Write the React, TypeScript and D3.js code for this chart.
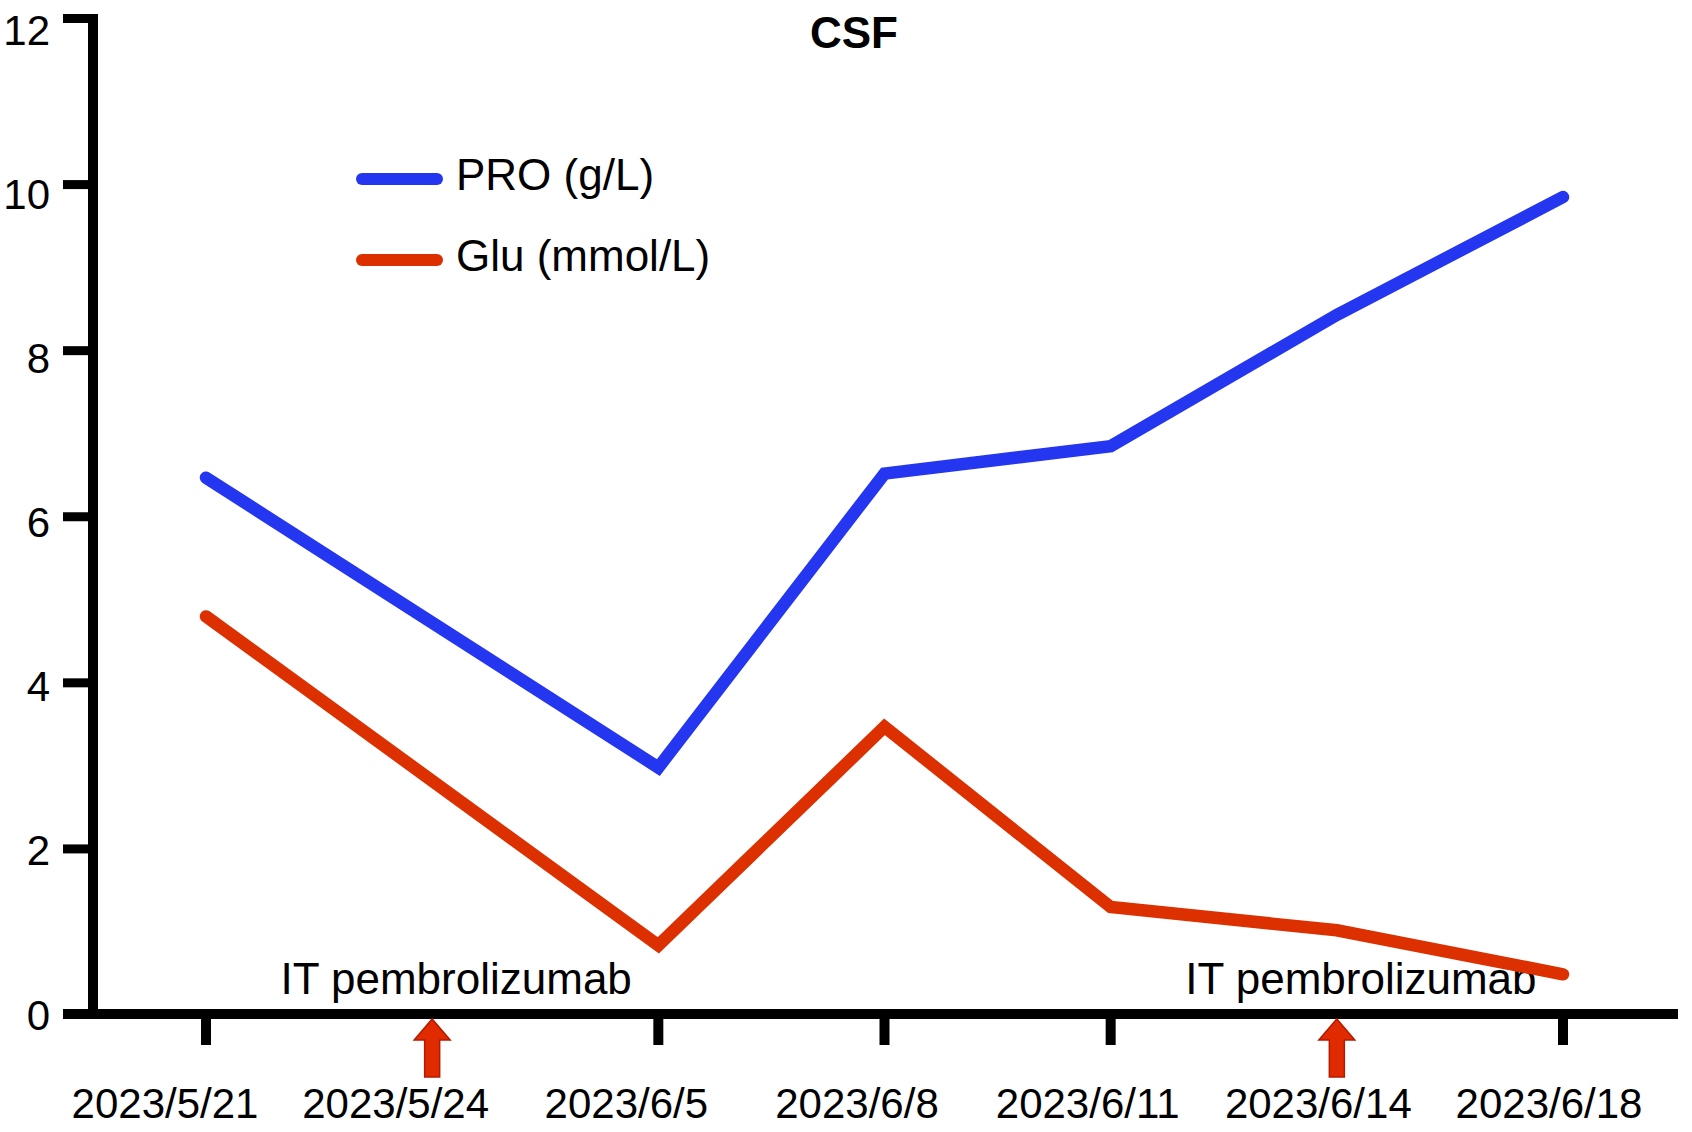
import * as React from 'react';
import { useEffect, useRef } from 'react';
import * as d3 from 'd3';

const dates = ['2023/5/21', '2023/5/24', '2023/6/5', '2023/6/8', '2023/6/11', '2023/6/14', '2023/6/18'];
// null = no measurement that day (line runs straight through)
const proValues: (number | null)[] = [6.47, null, 2.98, 6.52, 6.85, 8.43, 9.85];
const gluValues: (number | null)[] = [4.8, null, 0.84, 3.47, 1.3, 1.02, 0.49];
const yTicks = [0, 2, 4, 6, 8, 10, 12];
const treatmentDates = ['2023/5/24', '2023/6/14'];
const treatmentLabel = 'IT pembrolizumab';
const seriesNames = ['PRO (g/L)', 'Glu (mmol/L)'];
const seriesColors = ['#2436ef', '#dc3000'];

const W = 1692;
const H = 1132;

const App: React.FC = () => {
  const svgRef = useRef<SVGSVGElement>(null);

  useEffect(() => {
    document.body.style.margin = '0';
    if (!svgRef.current) return;
    const svg = d3.select(svgRef.current);
    svg.selectAll('*').remove();

    const font = '"Liberation Sans", Arial, Helvetica, sans-serif';
    const axisX = 93;
    const axisY = 1014;

    const x = d3.scalePoint<string>().domain(dates).range([206, 1563]);
    const xLabel = d3.scalePoint<string>().domain(dates).range([165, 1549]);
    const y = d3.scaleLinear().domain([0, 12]).range([1015, 18.5]);
    // tick labels drift slightly below their ticks toward the top
    const yLabel = d3.scaleLinear().domain([0, 12]).range([1015, 30]);

    // axes
    svg.append('line')
      .attr('x1', axisX).attr('x2', axisX)
      .attr('y1', y(12) - 4.5).attr('y2', axisY + 5)
      .attr('stroke', '#000').attr('stroke-width', 10);
    svg.append('line')
      .attr('x1', 63).attr('x2', 1678)
      .attr('y1', axisY).attr('y2', axisY)
      .attr('stroke', '#000').attr('stroke-width', 10);

    // y ticks
    const yt = svg.append('g');
    yt.selectAll('line').data(yTicks.filter(d => d > 0)).enter().append('line')
      .attr('x1', 63).attr('x2', axisX)
      .attr('y1', d => y(d)).attr('y2', d => y(d))
      .attr('stroke', '#000').attr('stroke-width', 9);
    yt.selectAll('text').data(yTicks).enter().append('text')
      .attr('x', 50)
      .attr('y', d => yLabel(d))
      .attr('text-anchor', 'end')
      .attr('dominant-baseline', 'central')
      .attr('font-family', font)
      .attr('font-size', 42)
      .text(d => d);

    // x ticks (not at treatment dates, arrows there instead)
    svg.append('g').selectAll('line')
      .data(dates.filter(d => !treatmentDates.includes(d)))
      .enter().append('line')
      .attr('x1', d => x(d)!).attr('x2', d => x(d)!)
      .attr('y1', axisY).attr('y2', 1045)
      .attr('stroke', '#000').attr('stroke-width', 10);

    svg.append('g').selectAll('text').data(dates).enter().append('text')
      .attr('x', d => xLabel(d)!)
      .attr('y', 1118)
      .attr('text-anchor', 'middle')
      .attr('font-family', font)
      .attr('font-size', 42)
      .text(d => d);

    // treatment arrows + labels
    const arrow = (cx: number) => {
      const tip = axisY + 5;
      const headH = 21;
      const headW = 18;
      const shaftW = 7.5;
      const bottom = 1077;
      return [
        [cx, tip], [cx + headW, tip + headH], [cx + shaftW, tip + headH],
        [cx + shaftW, bottom], [cx - shaftW, bottom], [cx - shaftW, tip + headH],
        [cx - headW, tip + headH],
      ].map(p => p.join(',')).join(' ');
    };
    const tg = svg.append('g');
    tg.selectAll('polygon').data(treatmentDates).enter().append('polygon')
      .attr('points', d => arrow(x(d)!))
      .attr('fill', '#e02a00')
      .attr('stroke', '#b51a00')
      .attr('stroke-width', 1.5);

    // series lines
    const line = d3.line<{ d: string; v: number | null }>()
      .x(p => x(p.d)!)
      .y(p => y(p.v as number));
    [proValues, gluValues].forEach((vals, i) => {
      const pts = dates.map((d, j) => ({ d, v: vals[j] })).filter(p => p.v !== null);
      svg.append('path')
        .datum(pts)
        .attr('fill', 'none')
        .attr('stroke', seriesColors[i])
        .attr('stroke-width', 12.5)
        .attr('stroke-linejoin', 'miter')
        .attr('stroke-linecap', 'round')
        .attr('d', line);
    });

    tg.selectAll('text').data(treatmentDates).enter().append('text')
      .attr('x', d => x(d)! + 24)
      .attr('y', 994)
      .attr('text-anchor', 'middle')
      .attr('font-family', font)
      .attr('font-size', 44)
      .text(treatmentLabel);

    // legend
    const lg = svg.append('g');
    seriesNames.forEach((name, i) => {
      const ly = 179 + i * 81;
      lg.append('line')
        .attr('x1', 362).attr('x2', 437)
        .attr('y1', ly).attr('y2', ly)
        .attr('stroke', seriesColors[i])
        .attr('stroke-width', 12)
        .attr('stroke-linecap', 'round');
      lg.append('text')
        .attr('x', 456).attr('y', ly - 5)
        .attr('dominant-baseline', 'central')
        .attr('font-family', font)
        .attr('font-size', 44)
        .text(name);
    });

    // title
    svg.append('text')
      .attr('x', 854).attr('y', 48)
      .attr('text-anchor', 'middle')
      .attr('font-family', font)
      .attr('font-size', 44)
      .attr('font-weight', 'bold')
      .text('CSF');
  }, []);

  return (
    <svg ref={svgRef} width={W} height={H} viewBox={`0 0 ${W} ${H}`} style={{ display: 'block', background: '#fff' }} />
  );
};

export default App;
